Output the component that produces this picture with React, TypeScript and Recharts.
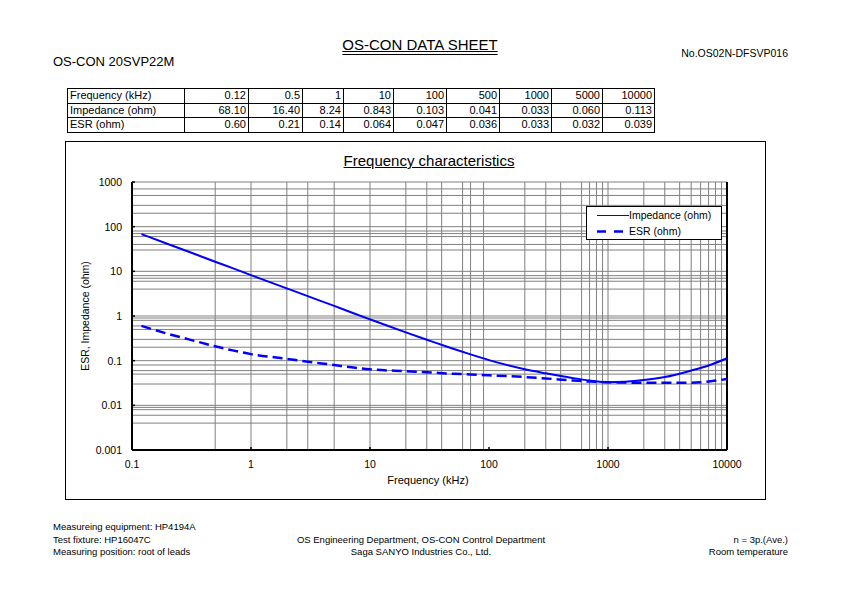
import React from 'react';
import { LineChart, Line, XAxis, YAxis, ReferenceLine } from 'recharts';

// measured curve (kHz / ohm), read from the sheet
const freqs = [0.12, 0.2, 0.3, 0.5, 0.7, 1, 2, 3, 5, 7, 10, 20, 30, 50, 70, 100, 200, 300, 500, 700, 1000, 2000, 3000, 5000, 7000, 10000];
const impedance = [68.1, 41, 27.4, 16.4, 11.8, 8.24, 4.15, 2.78, 1.68, 1.2, 0.843, 0.43, 0.295, 0.185, 0.138, 0.103, 0.064, 0.052, 0.041, 0.036, 0.033, 0.037, 0.043, 0.06, 0.078, 0.113];
const esr = [0.6, 0.4, 0.3, 0.21, 0.17, 0.14, 0.11, 0.095, 0.08, 0.071, 0.064, 0.058, 0.055, 0.051, 0.049, 0.047, 0.043, 0.04, 0.036, 0.034, 0.033, 0.032, 0.032, 0.032, 0.034, 0.039];

// table on top of the sheet
const tableFreqs = ['0.12', '0.5', '1', '10', '100', '500', '1000', '5000', '10000'];
const tableImpedance = ['68.10', '16.40', '8.24', '0.843', '0.103', '0.041', '0.033', '0.060', '0.113'];
const tableEsr = ['0.60', '0.21', '0.14', '0.064', '0.047', '0.036', '0.033', '0.032', '0.039'];

const xTicks = [0.1, 1, 10, 100, 1000, 10000];
const yTicks = [0.001, 0.01, 0.1, 1, 10, 100, 1000];
const xGrid = [0.5, 1, 2, 3, 5, 10, 20, 30, 40, 60, 70, 90, 200, 300, 400, 600, 700, 800, 900, 1000, 2000, 3000, 4000, 5000, 6000, 7000, 8000, 9000];
const yGrid = [
  0.004, 0.006, 0.008, 0.009, 0.01,
  0.03, 0.05, 0.06, 0.08, 0.1,
  0.2, 0.3, 0.5, 0.6, 0.8, 0.9, 1,
  4, 6, 7, 8, 10,
  30, 40, 60, 70, 80, 100,
  200, 300, 500, 700, 1000,
];

const data = freqs.map((f, i) => ({ f, z: impedance[i], esr: esr[i] }));

const FONT = '"Liberation Sans", Arial, Helvetica, sans-serif';
const BLUE = '#0000ff';
const PLOT_TOP = 182;
const PLOT_BOTTOM = 450;
const PLOT_LEFT = 132;

const colWidths = [117, 64, 54, 41, 50, 53, 53, 52, 51, 52];

function XTick({ x, payload }: any) {
  return (
    <g>
      <line x1={x} x2={x} y1={PLOT_BOTTOM} y2={PLOT_BOTTOM - 3} stroke="#000" strokeWidth={1.5} />
      <text x={x} y={468} textAnchor="middle" fontSize={10.5} fontFamily={FONT} fill="#000">
        {payload.value}
      </text>
    </g>
  );
}

function YTick({ y, payload }: any) {
  return (
    <g>
      <line x1={PLOT_LEFT} x2={PLOT_LEFT + 3} y1={y} y2={y} stroke="#000" strokeWidth={1.5} />
      <text x={122} y={y + 4} textAnchor="end" fontSize={10.5} fontFamily={FONT} fill="#000">
        {payload.value}
      </text>
    </g>
  );
}

const cell: React.CSSProperties = {
  border: '1px solid #000',
  padding: '0 2px',
  height: 13.5,
  lineHeight: '13px',
  textAlign: 'right',
  whiteSpace: 'nowrap',
  overflow: 'hidden',
};

function Row({ label, values }: { label: string; values: string[] }) {
  return (
    <tr>
      <td style={{ ...cell, textAlign: 'left' }}>{label}</td>
      {values.map((v, i) => (
        <td key={i} style={cell}>{v}</td>
      ))}
    </tr>
  );
}

export default function App() {
  return (
    <div style={{ position: 'absolute', left: 0, top: 0, width: 842, height: 595, background: '#fff', fontFamily: FONT, color: '#000' }}>
      <div style={{ position: 'absolute', left: 220, top: 36, width: 400, textAlign: 'center', fontSize: 15, lineHeight: '17px', textDecoration: 'underline double' }}>
        OS-CON DATA SHEET
      </div>
      <div style={{ position: 'absolute', left: 53, top: 54, fontSize: 13, lineHeight: '15px' }}>OS-CON 20SVP22M</div>
      <div style={{ position: 'absolute', right: 54, top: 47, fontSize: 10.5, lineHeight: '12px' }}>No.OS02N-DFSVP016</div>

      <table style={{ position: 'absolute', left: 67, top: 88, width: 587, borderCollapse: 'collapse', tableLayout: 'fixed', fontSize: 11 }}>
        <colgroup>
          {colWidths.map((w, i) => (
            <col key={i} style={{ width: w }} />
          ))}
        </colgroup>
        <tbody>
          <Row label="Frequency (kHz)" values={tableFreqs} />
          <Row label="Impedance (ohm)" values={tableImpedance} />
          <Row label="ESR (ohm)" values={tableEsr} />
        </tbody>
      </table>

      <div style={{ position: 'absolute', left: 65, top: 141, width: 701, height: 359, border: '1px solid #000', boxSizing: 'border-box' }} />
      <div style={{ position: 'absolute', left: 229, top: 152, width: 400, textAlign: 'center', fontSize: 15, lineHeight: '18px', textDecoration: 'underline' }}>
        Frequency characteristics
      </div>

      <div style={{ position: 'absolute', left: 0, top: 0 }}>
        <LineChart width={842} height={595} data={data} margin={{ top: PLOT_TOP, right: 115, bottom: 115, left: 72 }}>
          <XAxis
            dataKey="f"
            type="number"
            scale="log"
            domain={[0.1, 10000]}
            ticks={xTicks}
            allowDataOverflow
            height={30}
            axisLine={false}
            tickLine={false}
            tick={<XTick />}
            label={() => (
              <text x={428} y={484} textAnchor="middle" fontSize={11} fontFamily={FONT} fill="#000">
                Frequency (kHz)
              </text>
            )}
          />
          <YAxis
            type="number"
            scale="log"
            domain={[0.001, 1000]}
            ticks={yTicks}
            allowDataOverflow
            width={60}
            axisLine={false}
            tickLine={false}
            tick={<YTick />}
            label={() => (
              <text x={89} y={316} transform="rotate(-90 89 316)" textAnchor="middle" fontSize={10.5} fontFamily={FONT} fill="#000">
                ESR, Impedance (ohm)
              </text>
            )}
          />
          {yGrid.map((v) => (
            <ReferenceLine key={'y' + v} y={v} stroke="#808080" strokeWidth={1} />
          ))}
          {xGrid.map((v) => (
            <ReferenceLine key={'x' + v} x={v} stroke="#808080" strokeWidth={1} />
          ))}
          <ReferenceLine x={0.1} stroke="#000" strokeWidth={2} />
          <ReferenceLine x={10000} stroke="#000" strokeWidth={2} />
          <ReferenceLine y={0.001} stroke="#000" strokeWidth={2} />
          <Line dataKey="z" type="monotone" stroke={BLUE} strokeWidth={2} dot={false} isAnimationActive={false} />
          <Line dataKey="esr" type="monotone" stroke={BLUE} strokeWidth={2.5} strokeDasharray="10 5" dot={false} isAnimationActive={false} />
        </LineChart>
      </div>

      <div style={{ position: 'absolute', left: 586, top: 206, width: 136, height: 34, border: '1px solid #000', background: '#fff', boxSizing: 'border-box', fontSize: 10.5 }}>
        <svg width={36} height={32} style={{ position: 'absolute', left: 8, top: 0 }}>
          <line x1={2} x2={34} y1={8.5} y2={8.5} stroke={BLUE} strokeWidth={1} />
          <line x1={2} x2={34} y1={24.5} y2={24.5} stroke={BLUE} strokeWidth={2.5} strokeDasharray="9 8" />
        </svg>
        <div style={{ position: 'absolute', left: 42, top: 2, lineHeight: '13px' }}>Impedance (ohm)</div>
        <div style={{ position: 'absolute', left: 42, top: 18, lineHeight: '13px' }}>ESR (ohm)</div>
      </div>

      <div style={{ position: 'absolute', left: 53, top: 521, fontSize: 9.5, lineHeight: '12.5px' }}>
        <div>Measureing equipment: HP4194A</div>
        <div>Test fixture: HP16047C</div>
        <div>Measuring position: root of leads</div>
      </div>
      <div style={{ position: 'absolute', left: 221, top: 533.5, width: 400, textAlign: 'center', fontSize: 9.5, lineHeight: '12.5px' }}>
        <div>OS Engineering Department, OS-CON Control Department</div>
        <div>Saga SANYO Industries Co., Ltd.</div>
      </div>
      <div style={{ position: 'absolute', right: 54, top: 533.5, textAlign: 'right', fontSize: 9.5, lineHeight: '12.5px' }}>
        <div>n = 3p.(Ave.)</div>
        <div>Room temperature</div>
      </div>
    </div>
  );
}
